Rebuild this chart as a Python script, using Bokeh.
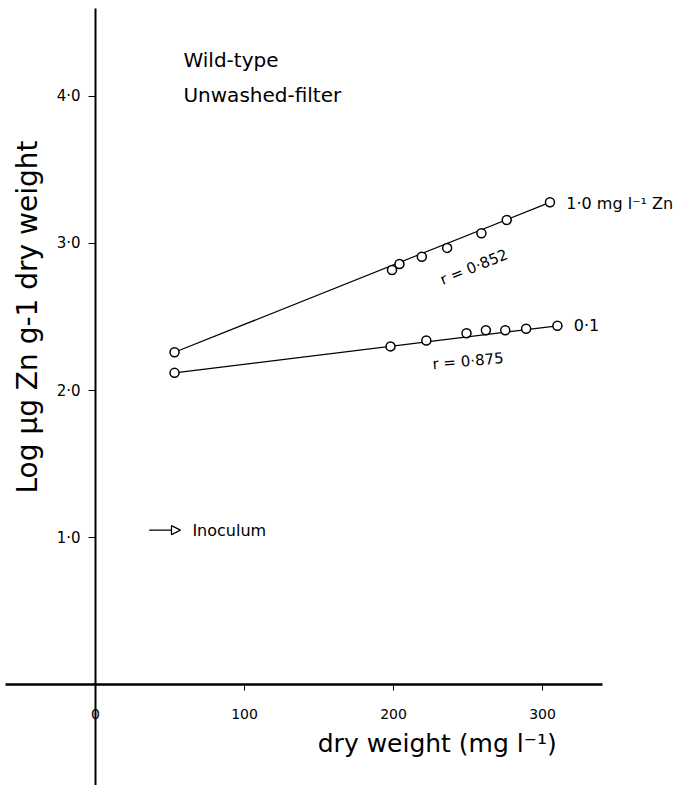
import math
from bokeh.plotting import figure
from bokeh.models import Label, Arrow, NormalHead, FixedTicker, Range1d, LinearAxis
from bokeh.embed import file_html
from bokeh.resources import INLINE

# ---- data ----
dw_hi = [53, 199, 204, 219, 236, 259, 276, 305]          # dry weight (mg l-1), 1.0 mg l-1 Zn
zn_hi = [2.26, 2.82, 2.86, 2.91, 2.97, 3.07, 3.16, 3.28]  # log ug Zn g-1
dw_lo = [53, 198, 222, 249, 262, 275, 289, 310]           # 0.1 mg l-1 Zn
zn_lo = [2.12, 2.30, 2.34, 2.39, 2.41, 2.41, 2.42, 2.44]
inoculum = 1.05

x_ticks = [0, 100, 200, 300]
x_tick_labels = ["0", "100", "200", "300"]
y_ticks = [1, 2, 3, 4]
y_tick_labels = ["1·0", "2·0", "3·0", "4·0"]

FONT = "DejaVu Sans"

p = figure(width=674, height=785, x_range=Range1d(-63.8, 388.6), y_range=Range1d(-0.687, 4.653),
           output_backend="svg", toolbar_location=None, x_axis_type=None, y_axis_type=None,
           min_border=0)
p.outline_line_color = None
p.background_fill_color = "white"

xaxis = LinearAxis(fixed_location=0, ticker=FixedTicker(ticks=x_ticks), bounds=(-60.4, 340))
xaxis.major_label_overrides = {t: l for t, l in zip(x_ticks, x_tick_labels)}
xaxis.axis_line_width = 2.5
xaxis.major_tick_out = 6
xaxis.major_tick_in = 0
xaxis.minor_tick_line_color = None
xaxis.major_label_standoff = 18
xaxis.major_label_text_font = FONT
xaxis.major_label_text_font_size = "14px"
xaxis.major_label_text_color = "black"
p.add_layout(xaxis, "below")

yaxis = LinearAxis(fixed_location=0, ticker=FixedTicker(ticks=y_ticks), bounds=(-1, 4.6))
yaxis.major_label_overrides = {t: l for t, l in zip(y_ticks, y_tick_labels)}
yaxis.axis_line_width = 2
yaxis.major_tick_out = 7
yaxis.major_tick_in = 0
yaxis.minor_tick_line_color = None
yaxis.major_label_standoff = 8
yaxis.major_label_orientation = "horizontal"
yaxis.major_label_text_font = FONT
yaxis.major_label_text_font_size = "15px"
yaxis.major_label_text_color = "black"
p.add_layout(yaxis, "left")

# fitted lines (first to last point of each series)
p.line([dw_hi[0], dw_hi[-1]], [zn_hi[0], zn_hi[-1]], line_color="black", line_width=1.2)
p.line([dw_lo[0], dw_lo[-1]], [zn_lo[0], zn_lo[-1]], line_color="black", line_width=1.2)
p.scatter(dw_hi, zn_hi, size=9, marker="circle", fill_color="white", line_color="black", line_width=1.5)
p.scatter(dw_lo, zn_lo, size=9, marker="circle", fill_color="white", line_color="black", line_width=1.5)

def lab(text, x, y, size, angle=0.0, align="left", baseline="middle"):
    p.add_layout(Label(x=x, y=y, text=text, text_font=FONT, text_font_size=size,
                       angle=angle, text_align=align, text_baseline=baseline,
                       text_color="black"))

lab("Wild-type", 59, 4.25, "20px", baseline="alphabetic")
lab("Unwashed-filter", 59, 4.01, "20px", baseline="alphabetic")
lab("1·0 mg l⁻¹ Zn", 316, zn_hi[-1] - 0.01, "16px")
lab("0·1", 321, zn_lo[-1], "16px")
lab("r = 0·852", 254, 2.84, "15px", angle=math.radians(22), align="center")
lab("r = 0·875", 250, 2.20, "15px", angle=math.radians(5), align="center")
lab("Inoculum", 65, inoculum, "16px")
lab("dry weight  (mg l⁻¹)", 232, -0.40, "25px", align="center")
lab("Log  μg Zn g-1 dry weight", -45.6, 2.53, "28px", angle=math.pi / 2, align="center")

p.add_layout(Arrow(x_start=36, y_start=inoculum, x_end=57, y_end=inoculum,
                   line_color="black", line_width=1.2,
                   end=NormalHead(size=9, fill_color="white", line_color="black", line_width=1.2)))

open("out.html", "w").write(file_html(p, INLINE))
